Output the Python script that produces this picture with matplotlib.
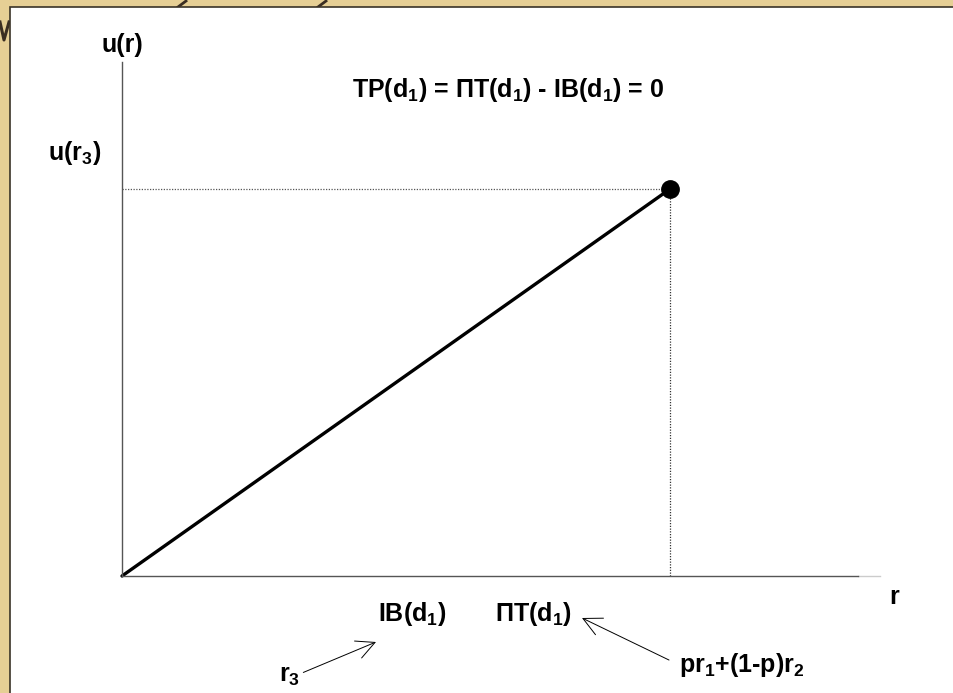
import numpy as np
import matplotlib
matplotlib.use("Agg")
import matplotlib.pyplot as plt
from matplotlib.patches import Rectangle
from matplotlib.lines import Line2D

plt.rcParams['font.family'] = ['Liberation Sans', 'DejaVu Sans']
plt.rcParams['mathtext.fontset'] = 'custom'
plt.rcParams['mathtext.rm'] = 'Liberation Sans:bold'
plt.rcParams['mathtext.it'] = 'Liberation Sans:bold'
plt.rcParams['mathtext.bf'] = 'Liberation Sans:bold'

# utility line u(r) = r, from the origin to the certainty point r3
r_line = [0.0, 1.0]
u_line = [0.0, 1.0]
r3 = 1.0
u_r3 = 1.0

# labels along the r axis (position in r units, text)
ib_pos, ib_text = 0.53, r'IB(d$_1$)'
pt_pos, pt_text = 0.75, r'ΠT(d$_1$)'
title_text = r'TP(d$_1$) = ΠT(d$_1$) - IB(d$_1$) = 0'

W, H = 954, 693
fig = plt.figure(figsize=(W / 100, H / 100), dpi=100)
fig.patch.set_facecolor('#e6cf95')

# bits of the slide heading peeking out behind the panel
fig.add_artist(Line2D([0 / W, 4 / W, 9 / W], [1 - 22 / H, 1 - 40 / H, 1 - 22 / H],
                      color='#3b2e22', lw=2.2, zorder=0.5))
for xs in (178, 318):
    fig.add_artist(Line2D([xs / W, (xs + 8) / W], [1 - 7 / H, 1 - 1 / H],
                          color='#3b2e22', lw=2.0, zorder=0.5))

# white slide panel
fig.add_artist(Rectangle((10 / W, -0.1), 1.2, 1.1 - 7 / H, transform=fig.transFigure,
                         facecolor='white', edgecolor='#3a3328', lw=1.2, zorder=1))

# axes box: y axis at x=122px, x axis at y=576px
x0, x1 = 122, 858
y0, y1 = 576, 62
ax = fig.add_axes([x0 / W, 1 - y0 / H, (x1 - x0) / W, (y0 - y1) / H])
ax.set_zorder(2)
ax.patch.set_alpha(0)
sx = (670 - x0)  # pixels per r unit
sy = (y0 - 189)  # pixels per u unit
ax.set_xlim(0, (x1 - x0) / sx)
ax.set_ylim(0, (y0 - y1) / sy)
for s in ('top', 'right'):
    ax.spines[s].set_visible(False)
ax.spines['left'].set_color('#555555')
ax.spines['bottom'].set_color('#555555')
ax.spines['left'].set_linewidth(1.0)
ax.spines['bottom'].set_linewidth(1.0)
ax.set_xticks([])
ax.set_yticks([])
# faint extension of the r axis
ax.plot([1.0, 1.0 + 22 / (x1 - x0)], [0, 0], transform=ax.transAxes,
        color='#cccccc', lw=1.0, clip_on=False)

# guide lines to the point (r3, u(r3))
ax.plot([0, r3], [u_r3, u_r3], color='#555555', lw=0.9, ls=(0, (1, 1.2)), clip_on=False)
ax.plot([r3, r3], [0, u_r3], color='#333333', lw=0.9, ls=(0, (1, 1.2)), clip_on=False)

ax.plot(r_line, u_line, color='black', lw=2.4, solid_capstyle='round', clip_on=False)
ax.plot([r3], [u_r3], 'o', color='black', ms=12.5, clip_on=False)

fs = 18
ax.text(0, (y0 - 45) / sy, 'u(r)', ha='center', va='center', fontsize=fs, fontweight='bold')
ax.text(-(x0 - 75) / sx, (y0 - 153) / sy, r'u(r$_3$)', ha='center', va='center',
        fontsize=fs, fontweight='bold')
ax.text((508 - x0) / sx, (y0 - 90) / sy, title_text, ha='center', va='center',
        fontsize=fs, fontweight='bold')
ax.text((894 - x0) / sx, -(597 - y0) / sy, 'r', ha='center', va='center',
        fontsize=fs, fontweight='bold')
ax.text(ib_pos, -(614 - y0) / sy, ib_text, ha='center', va='center',
        fontsize=fs, fontweight='bold')
ax.text(pt_pos, -(614 - y0) / sy, pt_text, ha='center', va='center',
        fontsize=fs, fontweight='bold')

# pointers from r3 and pr1+(1-p)r2
ax.annotate(r'r$_3$', xy=((376 - x0) / sx, -(642 - y0) / sy),
            xytext=((290 - x0) / sx, -(676 - y0) / sy),
            ha='center', va='center', fontsize=fs, fontweight='bold',
            annotation_clip=False,
            arrowprops=dict(arrowstyle='->,head_length=0.6,head_width=0.3',
                            color='black', lw=0.7,
                            shrinkA=0, shrinkB=0, mutation_scale=22,
                            relpos=(1.0, 0.6)))
ax.annotate(r'pr$_1$+(1-p)r$_2$', xy=((582 - x0) / sx, -(618 - y0) / sy),
            xytext=((742 - x0) / sx, -(665 - y0) / sy),
            ha='center', va='center', fontsize=fs, fontweight='bold',
            annotation_clip=False,
            arrowprops=dict(arrowstyle='->,head_length=0.6,head_width=0.3',
                            color='black', lw=0.7,
                            shrinkA=6, shrinkB=0, mutation_scale=22,
                            relpos=(0.0, 0.5)))

fig.savefig('out.png', dpi=100)
